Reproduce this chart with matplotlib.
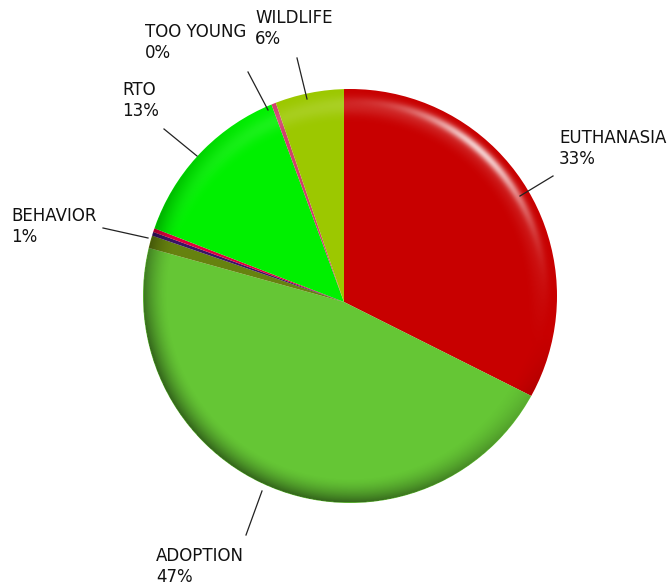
import numpy as np
import matplotlib
matplotlib.use("Agg")
import matplotlib.pyplot as plt
from matplotlib.patches import Circle

# ── Data (share of the circle) ───────────────────────────────
categories = ["EUTHANASIA", "ADOPTION", "BEHAVIOR", "OTHER A", "OTHER B",
              "RTO", "TOO YOUNG", "WILDLIFE"]
values = [32.4, 46.9, 1.0, 0.3, 0.3, 13.5, 0.35, 5.25]
colors = ["#c80000", "#65c635", "#66820f", "#3a1466", "#e0003c",
          "#00f000", "#d0406e", "#9cc800"]

# labels shown on the chart (only some slices are labelled)
label_names = ["EUTHANASIA", "ADOPTION", "BEHAVIOR", "RTO", "TOO YOUNG", "WILDLIFE"]
label_pcts = ["33%", "47%", "1%", "13%", "0%", "6%"]
# text anchor (top-left, pixels) and leader line (pixels)
label_xy = [(559, 129), (156, 547), (11, 207), (122, 81), (145, 23), (255, 9)]
leader = [((520, 196), (553, 176)), ((262, 491), (246, 535)),
          ((148, 238), (103, 228)), ((197, 156), (164, 129)),
          ((268, 110), (248, 72)), ((307, 99), (297, 58))]

W, H = 672, 587
VERTEX = (344, H - 302)
DISC = (350, H - 296)
R = 207

fig = plt.figure(figsize=(W / 100, H / 100), dpi=100)
ax = fig.add_axes([0, 0, 1, 1])

wedges, _ = ax.pie(values, colors=colors, startangle=90, counterclock=False,
                   center=VERTEX, radius=240, wedgeprops=dict(linewidth=0))
for w in wedges:
    w.set_clip_on(True)
    w.set_clip_path(Circle(DISC, R, transform=ax.transData))

# ── 3D-ish shading: dark rim on lower left, highlight upper right ──
n = 600
xs = np.linspace(DISC[0] - R, DISC[0] + R, n)
ys = np.linspace(DISC[1] - R, DISC[1] + R, n)
X, Y = np.meshgrid(xs, ys)
dx, dy = (X - DISC[0]) / R, (Y - DISC[1]) / R
r = np.sqrt(dx ** 2 + dy ** 2)
theta = np.degrees(np.arctan2(dy, dx))
dot = (dx * -0.6 + dy * -0.8) / np.maximum(r, 1e-6)
side = np.clip(0.35 + 0.8 * dot, 0, 1)
rim = np.clip((r - 0.88) / 0.12, 0, 1) ** 1.6
dark = 0.5 * side * rim

hl_ang = np.exp(-((theta - 48) / 24) ** 2)
hl = 0.7 * np.exp(-((r - 0.945) / 0.022) ** 2) * hl_ang
glow = 0.14 * np.exp(-((r - 0.92) / 0.045) ** 2) * np.clip(np.sin(np.radians(theta + 15)), 0, 1)
light = np.clip(hl + glow, 0, 1)

rgba = np.zeros((n, n, 4))
alpha = light + dark * (1 - light)
rgb_val = np.where(alpha > 0, light / np.maximum(alpha, 1e-6), 0)
rgba[..., 0] = rgb_val
rgba[..., 1] = rgb_val
rgba[..., 2] = rgb_val
rgba[..., 3] = np.clip(alpha, 0, 1)
rgba[r > 1.0, 3] = 0
im = ax.imshow(rgba, extent=(xs[0], xs[-1], ys[0], ys[-1]), origin="lower",
               interpolation="bilinear", zorder=3)
im.set_clip_path(Circle(DISC, R, transform=ax.transData))

# ── Labels and leader lines ──────────────────────────────────
for name, pct, (tx, ty), (p0, p1) in zip(label_names, label_pcts, label_xy, leader):
    ax.plot([p0[0], p1[0]], [H - p0[1], H - p1[1]], color="#222222",
            linewidth=0.9, zorder=4)
    ax.text(tx, H - ty, f"{name}\n{pct}", ha="left", va="top", fontsize=12,
            family="DejaVu Sans", color="#111111", linespacing=1.2, zorder=5)

ax.set_xlim(0, W)
ax.set_ylim(0, H)
ax.set_aspect("auto")
ax.axis("off")

plt.savefig("out.png", dpi=100)
plt.close()
